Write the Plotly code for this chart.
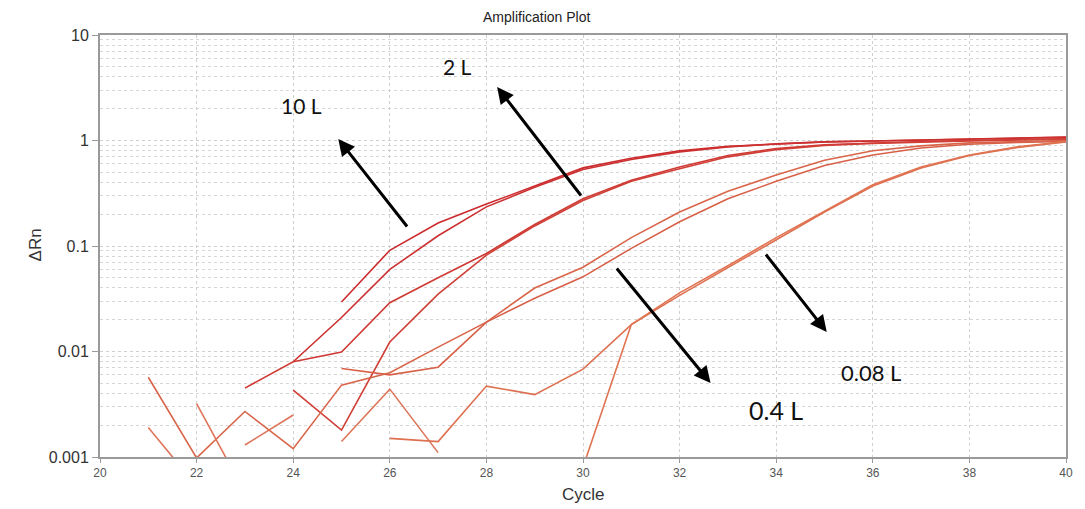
import plotly.graph_objects as go

# ---------------- data ----------------
cycles = list(range(21, 41))

def series(d):
    return [d.get(c) for c in cycles]

# 10 L replicates
l10_a = {25: 0.0295, 26: 0.091, 27: 0.165, 28: 0.25, 29: 0.37, 30: 0.55, 31: 0.68, 32: 0.80,
         33: 0.88, 34: 0.93, 35: 0.97, 36: 0.99, 37: 1.01, 38: 1.03, 39: 1.05, 40: 1.07}
l10_b = {24: 0.0080, 25: 0.021, 26: 0.060, 27: 0.125, 28: 0.235, 29: 0.36, 30: 0.53, 31: 0.66,
         32: 0.78, 33: 0.87, 34: 0.93, 35: 0.97, 36: 0.99, 37: 1.01, 38: 1.03, 39: 1.05, 40: 1.08}
# 2 L replicates
l2_a = {23: 0.0045, 24: 0.0080, 25: 0.0099, 26: 0.029, 27: 0.050, 28: 0.085, 29: 0.16, 30: 0.28,
        31: 0.42, 32: 0.56, 33: 0.72, 34: 0.84, 35: 0.91, 36: 0.95, 37: 0.98, 38: 1.00, 39: 1.02, 40: 1.04}
l2_b = {24: 0.0043, 25: 0.0018, 26: 0.0123, 27: 0.035, 28: 0.082, 29: 0.155, 30: 0.27, 31: 0.41,
        32: 0.54, 33: 0.70, 34: 0.82, 35: 0.90, 36: 0.94, 37: 0.97, 38: 0.99, 39: 1.01, 40: 1.03}
# 0.4 L replicates
l04_a = {21: 0.0057, 22: 0.00098, 23: 0.0027, 24: 0.0012, 25: 0.0048, 26: 0.0063, 27: 0.011,
         28: 0.019, 29: 0.040, 30: 0.063, 31: 0.12, 32: 0.21, 33: 0.33, 34: 0.47, 35: 0.65,
         36: 0.80, 37: 0.89, 38: 0.95, 39: 0.98, 40: 1.00}
l04_b = {25: 0.0069, 26: 0.0060, 27: 0.0071, 28: 0.019, 29: 0.032, 30: 0.051, 31: 0.095,
         32: 0.17, 33: 0.28, 34: 0.41, 35: 0.58, 36: 0.73, 37: 0.85, 38: 0.92, 39: 0.96, 40: 0.98}
# 0.08 L replicates
l008_a = {26: 0.0015, 27: 0.0014, 28: 0.0047, 29: 0.0039, 30: 0.0068, 31: 0.018, 32: 0.034,
          33: 0.062, 34: 0.115, 35: 0.21, 36: 0.37, 37: 0.55, 38: 0.72, 39: 0.86, 40: 0.97}
l008_b = {30: 0.0008, 31: 0.018, 32: 0.036, 33: 0.065, 34: 0.12, 35: 0.215, 36: 0.38,
          37: 0.56, 38: 0.73, 39: 0.87, 40: 0.98}
# background noise fragments
noise_1 = {21: 0.0019, 22: 0.00053}
noise_2 = {22: 0.0032, 23: 0.00046}
noise_3 = {23: 0.0013, 24: 0.0025}
noise_4 = {25: 0.0014, 26: 0.0044, 27: 0.0011}

series_list = [
    ("10 L a", l10_a, "#cc2b2e"),
    ("10 L b", l10_b, "#cc3030"),
    ("2 L a", l2_a, "#cf3a34"),
    ("2 L b", l2_b, "#d03e36"),
    ("0.4 L a", l04_a, "#d9654a"),
    ("0.4 L b", l04_b, "#d86048"),
    ("0.08 L a", l008_a, "#de7050"),
    ("0.08 L b", l008_b, "#e07452"),
    ("noise 1", noise_1, "#de7458"),
    ("noise 2", noise_2, "#de7458"),
    ("noise 3", noise_3, "#de7458"),
    ("noise 4", noise_4, "#de7458"),
]

y_tickvals = [0.001, 0.01, 0.1, 1, 10]
y_ticktext = ["0.001", "0.01", "0.1", "1", "10"]
y_minor = [m * 10 ** k for k in range(-3, 1) for m in range(2, 10)]
x_tickvals = list(range(20, 41, 2))

labels = ["10 L", "2 L", "0.4 L", "0.08 L"]

# ---------------- figure ----------------
W, H = 1085, 509
L, R, T, B = 100, 12, 35, 52
PW, PH = W - L - R, H - T - B

def px(xp):
    return (xp - L) / PW

def py(yp):
    return (H - B - yp) / PH

fig = go.Figure()
for name, d, col in series_list:
    fig.add_trace(go.Scatter(x=cycles, y=series(d), mode="lines", name=name,
                             line=dict(color=col, width=1.6), connectgaps=False,
                             hoverinfo="skip"))

grid_col = "#cfcfcf"
fig.update_xaxes(range=[20, 40], tickvals=x_tickvals, showgrid=True, gridcolor=grid_col,
                 griddash="dot", gridwidth=1, showline=True, linecolor="#9a9a9a", linewidth=2,
                 mirror=True, ticks="outside", ticklen=4, tickcolor="#9a9a9a",
                 tickfont=dict(family="Liberation Sans", size=12, color="#555"), zeroline=False)
fig.update_yaxes(type="log", range=[-3, 1], tickvals=y_tickvals, ticktext=y_ticktext,
                 showgrid=True, gridcolor=grid_col, griddash="dot", gridwidth=1,
                 showline=True, linecolor="#9a9a9a", linewidth=2, mirror=True,
                 ticks="outside", ticklen=6, tickcolor="#9a9a9a",
                 tickfont=dict(family="Liberation Sans", size=16, color="#333"),
                 minor=dict(tickvals=y_minor, showgrid=True, gridcolor="#d6d6d6",
                            griddash="dot", ticks=""))

# white label boxes (cover the grid, like pasted labels)
boxes = [(262, 357, 72, 132), (427, 500, 37, 100), (725, 853, 385, 442), (827, 932, 338, 385)]
for x0, x1, y0, y1 in boxes:
    fig.add_shape(type="rect", xref="paper", yref="paper", x0=px(x0), x1=px(x1),
                  y0=py(y1), y1=py(y0), fillcolor="white", line=dict(width=0), layer="between")

# labels
label_pos = [(303, 105, 21), (460, 66, 21), (781, 410, 25), (877, 372, 22)]
for txt, (xp, yp, fs) in zip(labels, label_pos):
    fig.add_annotation(text=txt, xref="paper", yref="paper", x=px(xp), y=py(yp),
                       showarrow=False, font=dict(family="Lato", size=fs, color="#111"),
                       xanchor="center", yanchor="middle")

# arrows: (tail, head)
arrows = [((410, 228), (340, 139)), ((585, 197), (500, 87)),
          ((620, 267), (715, 383)), ((770, 253), (832, 332))]
for (tx, ty), (hx, hy) in arrows:
    fig.add_annotation(text="", xref="paper", yref="paper", x=px(hx), y=py(hy),
                       axref="pixel", ayref="pixel", ax=tx - hx, ay=ty - hy,
                       showarrow=True, arrowhead=2, arrowsize=1.1, arrowwidth=3,
                       arrowcolor="black", standoff=0, startstandoff=0)

# axis titles and plot title
fig.add_annotation(text="Cycle", xref="paper", yref="paper", x=px(587), y=py(495),
                   xanchor="center", yanchor="middle", showarrow=False,
                   font=dict(family="Liberation Sans", size=17, color="#333"))
fig.add_annotation(text="ΔRn", xref="paper", yref="paper", x=px(35), y=py(245),
                   xanchor="center", yanchor="middle", textangle=-90, showarrow=False,
                   font=dict(family="Liberation Sans", size=17, color="#333"))
fig.add_annotation(text="Amplification Plot", xref="paper", yref="paper", x=px(540), y=py(17),
                   xanchor="center", yanchor="middle", showarrow=False,
                   font=dict(family="Liberation Sans", size=14, color="#222"))

fig.update_layout(width=W, height=H, margin=dict(l=L, r=R, t=T, b=B),
                  paper_bgcolor="white", plot_bgcolor="white", showlegend=False)

fig.write_html("out.html")
